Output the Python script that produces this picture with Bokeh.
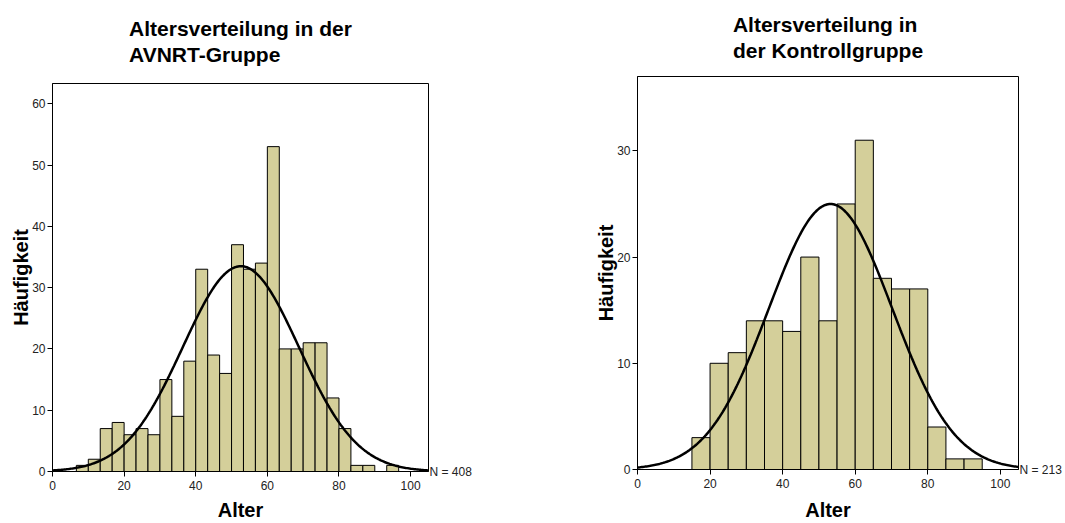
import math
from bokeh.plotting import figure
from bokeh.layouts import row, column
from bokeh.models import Range1d, FixedTicker, LinearAxis
from bokeh.embed import file_html
from bokeh.resources import INLINE

# ---- data ----
# AVNRT group: bins of width 10/3 starting at 0
avnrt_bin_width = 10.0 / 3.0
avnrt_counts = [0, 0, 1, 2, 7, 8, 6, 7, 6, 15, 9, 18, 33, 19, 16, 37, 33, 34, 53,
                20, 20, 21, 21, 12, 7, 1, 1, 0, 1, 0, 0]
avnrt_n = 408
avnrt_mean = 52.6
avnrt_sd = 16.2

# Control group: bins of width 5 starting at 15
ctrl_bin_width = 5.0
ctrl_bin_starts = [15, 20, 25, 30, 35, 40, 45, 50, 55, 60, 65, 70, 75, 80, 85, 90]
ctrl_counts = [3, 10, 11, 14, 14, 13, 20, 14, 25, 31, 18, 17, 17, 4, 1, 1]
ctrl_n = 213
ctrl_mean = 53.2
ctrl_sd = 17.0

x_ticks = [0, 20, 40, 60, 80, 100]
avnrt_y_ticks = [0, 10, 20, 30, 40, 50, 60]
ctrl_y_ticks = [0, 10, 20, 30]

FONT = "Liberation Sans"
BAR_FILL = "#D4CF9A"


def normal_curve(mean, sd, n, bw, x0=0.0, x1=105.0, steps=300):
    xs, ys = [], []
    for i in range(steps + 1):
        x = x0 + (x1 - x0) * i / steps
        y = n * bw / (sd * math.sqrt(2 * math.pi)) * math.exp(-0.5 * ((x - mean) / sd) ** 2)
        xs.append(x)
        ys.append(y)
    return xs, ys


def make_fig(title, lefts, counts, bw, n, mean, sd, y_end, y_ticks,
             frame_w, frame_h, bl, br, bt, bb, title_standoff, xlabel_standoff):
    p = figure(frame_width=frame_w, frame_height=frame_h,
               x_range=Range1d(0, 105), y_range=Range1d(0, y_end),
               output_backend="svg", toolbar_location=None,
               min_border_left=bl, min_border_right=br, min_border_top=bt, min_border_bottom=bb)
    p.title.text = title
    p.title.align = "center"
    p.title.vertical_align = "top"
    p.title.text_font = FONT
    p.title.text_font_size = "21px"
    p.title.text_font_style = "bold"
    p.title.text_color = "black"
    p.title.text_line_height = 1.15
    p.title.standoff = title_standoff

    p.xgrid.visible = False
    p.ygrid.visible = False
    p.outline_line_color = "black"
    p.outline_line_alpha = 1.0
    p.outline_line_width = 1
    p.background_fill_color = "white"
    p.border_fill_color = "white"

    rights = [l + bw for l in lefts]
    p.quad(left=lefts, right=rights, bottom=0, top=counts,
           fill_color=BAR_FILL, line_color="black", line_width=1)

    xs, ys = normal_curve(mean, sd, n, bw)
    p.line(xs, ys, line_color="black", line_width=2.5)

    for ax in (p.xaxis, p.yaxis):
        ax.axis_line_color = "black"
        ax.major_tick_line_color = "black"
        ax.major_tick_out = 5
        ax.major_tick_in = 0
        ax.minor_tick_line_color = None
        ax.major_label_text_font = FONT
        ax.major_label_text_font_size = "12px"
        ax.major_label_text_color = "#222222"
        ax.axis_label_text_font = FONT
        ax.axis_label_text_font_size = "20px"
        ax.axis_label_text_font_style = "bold"
        ax.axis_label_text_color = "black"

    p.xaxis.ticker = FixedTicker(ticks=x_ticks)
    p.yaxis.ticker = FixedTicker(ticks=y_ticks)
    p.xaxis.axis_label = "Alter"
    p.yaxis.axis_label = "Häufigkeit"
    p.xaxis.major_label_standoff = 4
    p.xaxis.axis_label_standoff = xlabel_standoff
    p.yaxis.major_label_standoff = 2
    p.yaxis.axis_label_standoff = -3

    # "N = ..." note at the right end of the x axis, via a label-only right axis
    n_axis = LinearAxis(ticker=FixedTicker(ticks=[0]),
                        major_label_overrides={0: f"N = {n}"},
                        axis_line_color=None, major_tick_line_color=None,
                        minor_tick_line_color=None,
                        major_tick_out=0, major_tick_in=0,
                        major_label_standoff=1,
                        major_label_text_font=FONT,
                        major_label_text_font_size="12px",
                        major_label_text_color="#222222")
    p.add_layout(n_axis, "right")
    return p


avnrt_lefts = [i * avnrt_bin_width for i in range(len(avnrt_counts))]

p1 = make_fig("Altersverteilung in der\nAVNRT-Gruppe", avnrt_lefts, avnrt_counts,
              avnrt_bin_width, avnrt_n, avnrt_mean, avnrt_sd, 63.3, avnrt_y_ticks,
              376, 388, 52, 104, 83, 52, 32, 6)
p2 = make_fig("Altersverteilung in\nder Kontrollgruppe", ctrl_bin_starts, ctrl_counts,
              ctrl_bin_width, ctrl_n, ctrl_mean, ctrl_sd, 37.0, ctrl_y_ticks,
              381, 393, 105, 47, 76, 54, 25, 8)

layout = row(column(p1), column(p2))
open("out.html", "w").write(file_html(layout, INLINE))
